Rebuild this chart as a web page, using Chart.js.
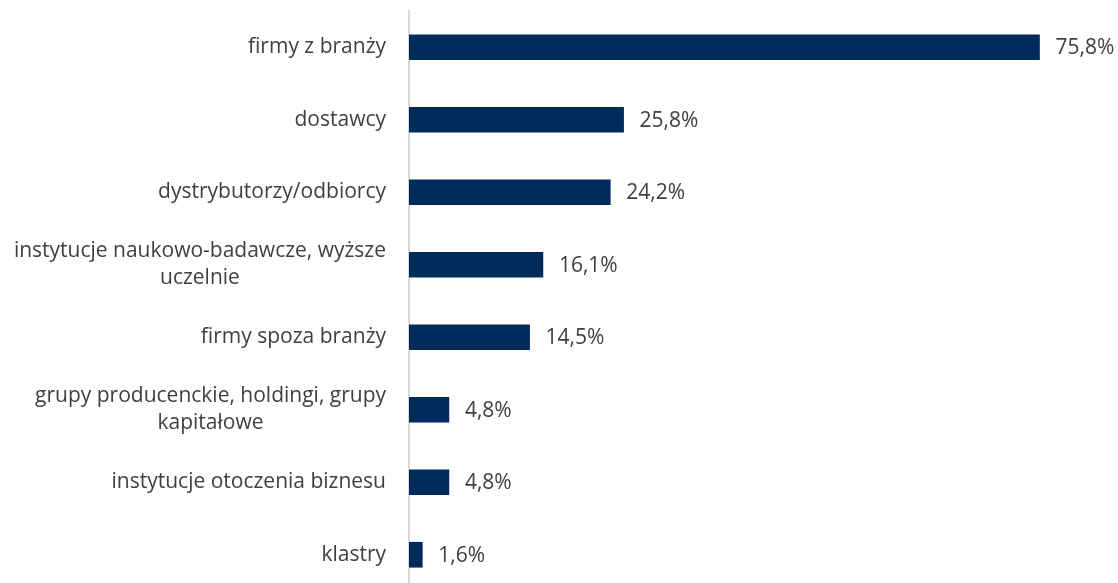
<!DOCTYPE html>
<html>
<head>
<meta charset="utf-8">
<script src="https://cdn.jsdelivr.net/npm/chart.js@4/dist/chart.umd.min.js"></script>
<style>
  html, body { margin: 0; padding: 0; background: #fff; overflow: hidden; }
  #wrap { width: 1118px; height: 600px; }
</style>
</head>
<body>
<div id="wrap"><canvas id="chart"></canvas></div>
<script>
// categories (multi-line ones split into arrays) and their shares in %
const categories = [
    ['firmy z branży'],
    ['dostawcy'],
    ['dystrybutorzy/odbiorcy'],
    ['instytucje naukowo-badawcze, wyższe', 'uczelnie'],
    ['firmy spoza branży'],
    ['grupy producenckie, holdingi, grupy', 'kapitałowe'],
    ['instytucje otoczenia biznesu'],
    ['klastry']
];
const shares = [75.8, 25.8, 24.2, 16.1, 14.5, 4.8, 4.8, 1.6];

const FONT = '21px "Open Sans", "Liberation Sans", sans-serif';
const TEXT = '#404040';

// Category labels: block right aligned next to the axis, lines centred inside the block
const categoryLabels = {
    id: 'categoryLabels',
    afterDraw(chart) {
        const ctx = chart.ctx;
        const yScale = chart.scales.y;
        const right = chart.chartArea.left - 23;
        ctx.save();
        ctx.font = FONT;
        ctx.fillStyle = TEXT;
        ctx.textAlign = 'center';
        ctx.textBaseline = 'middle';
        categories.forEach((lines, i) => {
            const y = yScale.getPixelForValue(i);
            const w = Math.max(...lines.map(l => ctx.measureText(l).width));
            const lh = 27;
            const top = y - (lines.length - 1) * lh / 2;
            lines.forEach((l, j) => ctx.fillText(l, right - w / 2, top + j * lh));
        });
        ctx.restore();
    }
};

// Value labels at the end of each bar
const valueLabels = {
    id: 'valueLabels',
    afterDatasetsDraw(chart) {
        const ctx = chart.ctx;
        const meta = chart.getDatasetMeta(0);
        ctx.save();
        ctx.font = FONT;
        ctx.fillStyle = TEXT;
        ctx.textAlign = 'left';
        ctx.textBaseline = 'middle';
        meta.data.forEach((bar, i) => {
            const txt = shares[i].toFixed(1).replace('.', ',') + '%';
            ctx.fillText(txt, bar.x + 16, bar.y + 1);
        });
        ctx.restore();
    }
};

new Chart(document.getElementById('chart'), {
    type: 'bar',
    data: {
        labels: categories.map(c => c.join(' ')),
        datasets: [{
            data: shares,
            backgroundColor: '#002B5B',
            barThickness: 25
        }]
    },
    options: {
        indexAxis: 'y',
        responsive: true,
        maintainAspectRatio: false,
        animation: false,
        layout: { padding: { top: 11, bottom: 9, right: 2, left: 0 } },
        plugins: {
            legend: { display: false },
            tooltip: { enabled: false }
        },
        scales: {
            x: {
                display: false,
                min: 0,
                max: 85
            },
            y: {
                grid: { display: false, drawTicks: false },
                border: { display: true, color: '#d9d9d9', width: 2 },
                ticks: { display: false },
                afterFit(scale) { scale.width = 409; }
            }
        }
    },
    plugins: [categoryLabels, valueLabels]
});
</script>
</body>
</html>
